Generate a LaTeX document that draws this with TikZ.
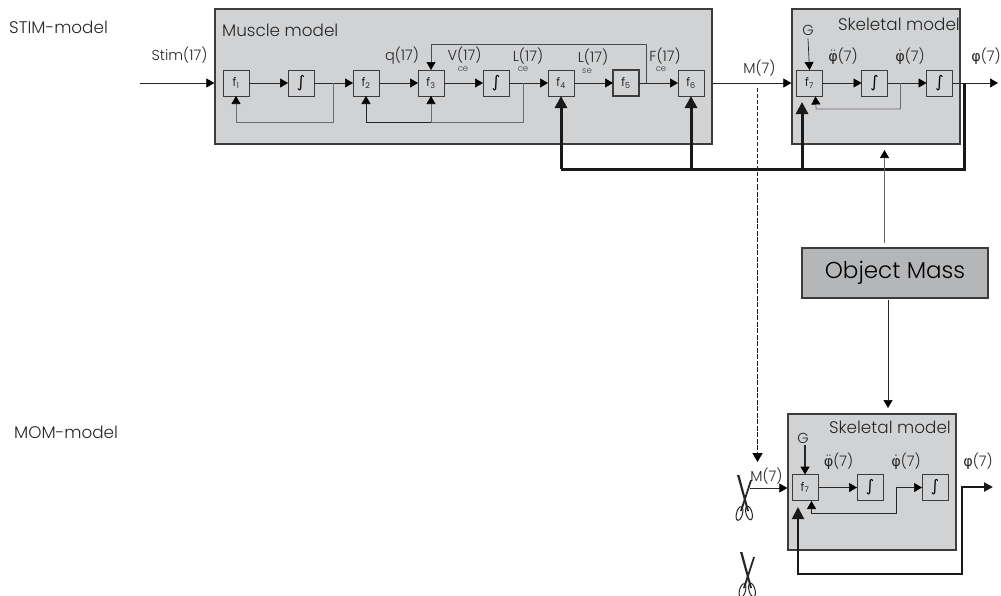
\documentclass[tikz,border=0pt]{standalone}
\usepackage{fontspec}
\usepackage{amsmath}
\setmainfont{Poppins Light}
\newfontfamily\greekfont{DejaVu Sans}
\usetikzlibrary{arrows.meta,positioning,calc}
\definecolor{panelgray}{RGB}{209,210,212}
\definecolor{massgray}{RGB}{181,182,184}
\definecolor{edgegray}{RGB}{60,60,60}
\definecolor{wiregray}{RGB}{110,110,110}
\newcommand{\vphi}{{\greekfont φ}}
\newcommand{\vphid}{$\dot{\hbox{\vphi}}$}
\newcommand{\vphidd}{$\ddot{\hbox{\vphi}}$}
\newcommand{\ftxt}[1]{f\textsubscript{#1}}
\newcommand{\intg}{{\greekfont\fontsize{16}{16}\selectfont ∫}}

\begin{document}
\begin{tikzpicture}[
    x=1pt, y=-1pt,
    node distance=39pt,
    panel/.style={draw=edgegray, line width=1.3pt, fill=panelgray, inner sep=0pt},
    fblock/.style={draw=edgegray, line width=0.9pt, fill=panelgray, minimum size=26pt,
                   inner sep=0pt, outer sep=0pt, font=\fontsize{12}{12}\selectfont},
    lbl/.style={inner sep=0pt, font=\fontsize{14.5}{14.5}\selectfont, text=black!85},
    sublbl/.style={inner sep=0pt, font=\fontsize{8.5}{8.5}\selectfont, text=black!75},
    headlbl/.style={inner sep=0pt, font=\fontsize{16.8}{16.8}\selectfont, text=black!85},
    titlelbl/.style={inner sep=0pt, anchor=west, font=\fontsize{16.8}{16.8}\selectfont, text=black!85},
    arr/.style={-{Triangle[length=8pt,width=9pt,black]}, line width=0.7pt, black!85},
    grayarr/.style={arr, wiregray},
    heavyarr/.style={-{Triangle[length=12pt,width=12pt]}, line width=3pt, black!90},
    heavy/.style={line width=3pt, black!90},
    pics/scissorcut/.style={code={
        \fill[black!85] (-7,-25) -- (-4.6,-25) -- (5,11) -- (3,11) -- cycle;
        \fill[black!85] (8,-20) -- (6.2,-20) -- (-4,11) -- (-2,11) -- cycle;
        \draw[black!85, line width=1pt, rotate around={-15:(-4.5,13.5)}] (-4.5,13.5) ellipse (3pt and 7pt);
        \draw[black!85, line width=1pt, rotate around={15:(5,13)}] (5,13) ellipse (3pt and 7pt);
    }},
]
    \useasboundingbox (0,0) rectangle (1001,595);

    % model panels
    \node[panel, minimum width=497pt, minimum height=135pt] (muscle) at (463.5,76.5) {};
    \node[panel, minimum width=168pt, minimum height=135pt] (skel) at (876,76.5) {};
    \node[panel, minimum width=168pt, minimum height=136pt] (skelb) at (872,482) {};
    \node[panel, fill=massgray, minimum width=186pt, minimum height=50pt,
          font=\fontsize{23}{23}\selectfont] (mass) at (895,273) {Object Mass};

    % muscle chain
    \node[fblock] (f1) at (236,83) {\ftxt{1}};
    \node[fblock, right=39pt of f1] (int1) {\intg};
    \node[fblock, right=39pt of int1] (f2) {\ftxt{2}};
    \node[fblock, right=39pt of f2] (f3) {\ftxt{3}};
    \node[fblock, right=39pt of f3] (int2) {\intg};
    \node[fblock, right=39pt of int2] (f4) {\ftxt{4}};
    \node[fblock, right=39pt of f4, line width=1.2pt] (f5) {\ftxt{5}};
    \node[fblock, right=39pt of f5] (f6) {\ftxt{6}};

    % skeletal chain, top
    \node[fblock] (f7) at (809.5,83) {\ftxt{7}};
    \node[fblock, right=39pt of f7] (int3) {\intg};
    \node[fblock, right=39pt of int3] (int4) {\intg};

    % skeletal chain, bottom
    \node[fblock] (f7b) at (805,487.5) {\ftxt{7}};
    \node[fblock, right=39pt of f7b] (int5) {\intg};
    \node[fblock, right=39pt of int5] (int6) {\intg};

    % titles
    \node[titlelbl] (stimtitle) at (9,27) {STIM-model};
    \node[titlelbl] (momtitle) at (14,432) {MOM-model};
    \node[headlbl, anchor=west] (muscletitle) at (222,30) {Muscle model};
    \node[headlbl, anchor=east] (skeltitle) at (960,24) {Skeletal model};
    \node[headlbl, anchor=east] (skelbtitle) at (951,427) {Skeletal model};

    % signal labels
    \node[lbl] (stim) at (179.5,55) {Stim(17)};
    \node[lbl] (q17) at (402,56) {q(17)};
    \node[lbl] (vce) at (464.5,55) {V(17)};
    \node[sublbl] (vcesub) at (463,69) {ce};
    \node[lbl] (lce) at (528,56) {L(17)};
    \node[sublbl] (lcesub) at (523,69) {ce};
    \node[lbl] (lse) at (593,57) {L(17)};
    \node[sublbl] (lsesub) at (587,71) {se};
    \node[lbl] (fce) at (665,56) {F(17)};
    \node[sublbl] (fcesub) at (661,69) {ce};
    \node[lbl] (m7) at (759.5,68) {M(7)};
    \node[lbl] (g) at (808,30) {G};
    \node[lbl] (acc) at (843,56) {\vphidd(7)};
    \node[lbl] (vel) at (910,56) {\vphid(7)};
    \node[lbl] (ang) at (986,56) {\vphi(7)};
    \node[lbl] (m7b) at (766.5,476) {M(7)};
    \node[lbl] (gb) at (803,438) {G};
    \node[lbl] (accb) at (838.5,461) {\vphidd(7)};
    \node[lbl] (velb) at (906,461) {\vphid(7)};
    \node[lbl] (angb) at (978,461) {\vphi(7)};

    % free ends and taps
    \coordinate (stimin) at (140,83);
    \coordinate (tap1) at ($(int1.east)!0.5!(f2.west)$);
    \coordinate (tap2) at (523.5,83);
    \coordinate (tap3) at (646.5,83);
    \coordinate (tap4) at (900.5,83);
    \coordinate (tap5) at (964,83);
    \coordinate (tap6) at (896,487.5);
    \coordinate (lowm) at (0,122);
    \coordinate (topm) at (0,44.5);
    \coordinate (busm) at (0,169);
    \coordinate (angout) at (998,83);
    \coordinate (angoutb) at (993,487);
    \coordinate (cutstart) at (757.5,88);
    \coordinate (cutmid) at (757.5,185);
    \coordinate (cutend) at (757.5,462);
    \coordinate (momin) at (750,488);

    % muscle wires
    \draw[arr] (stimin) -- (muscle.west |- stimin);
    \draw[arr] (f1) -- (int1);
    \draw[arr] (int1) -- (f2);
    \draw[arr] (f2) -- (f3);
    \draw[arr] (f3) -- (int2);
    \draw[arr] (int2) -- (f4);
    \draw[arr] (f4) -- (f5);
    \draw[arr] (f5) -- (f6);
    \draw[grayarr] (tap1) -- (tap1 |- lowm) -| (f1.south);
    \draw[grayarr] (tap2) -- (tap2 |- lowm) -| (f3.south);
    \draw[arr] (f3.south |- lowm) -| (f2.south);
    \draw[arr, line width=0.6pt, black!70] (tap3) -- (tap3 |- topm) -| (f3.north);

    % skeletal wires, top
    \draw[arr] (muscle.east |- f6) -- (skel.west |- f7);
    \draw[arr] (f7) -- (int3);
    \draw[arr] (int3) -- (int4);
    \draw[arr] (int4) -- (angout);
    \draw[grayarr] (tap4) |- (816,109) -- ($(f7.south east)+(-7,0.5)$);
    \draw[arr] (g.south) ++(0,3) -- (f7.north);

    % thick feedback bus
    \draw[heavy] (tap5) -- (tap5 |- busm) -- (f4.south |- busm);
    \draw[heavyarr] (f4.south |- busm) -- (f4.south);
    \draw[heavyarr] (f6.south |- busm) -- (f6.south);
    \draw[heavyarr] (802,169) -- (802,102);

    % object mass
    \draw[arr, black!60] (884.5,243) -- (884.5,150);
    \draw[arr] (888,300) -- (888,408);

    % cut signal
    \draw[black!85, line width=0.7pt, dash pattern=on 4pt off 2pt] (cutstart) -- (cutmid);
    \draw[-{Triangle[length=9pt,width=10pt,black]}, black!90, line width=1.4pt, dash pattern=on 5pt off 1.5pt] (cutmid) -- (cutend);

    % skeletal wires, bottom
    \draw[arr] (momin) -- (skelb.west |- momin);
    \draw[arr] (f7b.east) ++(1,0) -- (int5);
    \draw[arr] (tap6) -- (int6);
    \draw[arr] (tap6) |- (811.5,513) -- (811.5,501);
    \draw[arr, line width=1.3pt] (gb.south) ++(2,2) -- (f7b.north);
    \draw[-{Triangle[length=9pt,width=9pt]}, line width=2pt, black!90] (798,574) -| (961.5,487) -- (angoutb);
    \draw[heavyarr, line width=2pt] (798,575) -- (798,507);

    % scissors
    \pic at (744,500) {scissorcut};
    \pic at (747,577) {scissorcut};
\end{tikzpicture}
\end{document}
